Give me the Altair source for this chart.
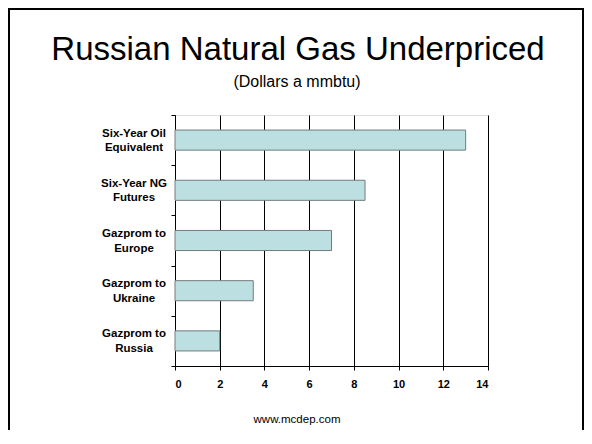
import altair as alt
import pandas as pd

categories = [
    "Six-Year Oil\nEquivalent",
    "Six-Year NG\nFutures",
    "Gazprom to\nEurope",
    "Gazprom to\nUkraine",
    "Gazprom to\nRussia",
]
values = [13.0, 8.5, 7.0, 3.5, 2.0]
x_ticks = [0, 2, 4, 6, 8, 10, 12, 14]
title_text = "Russian Natural Gas Underpriced"
subtitle_text = "(Dollars a mmbtu)"
footer_text = "www.mcdep.com"

df = pd.DataFrame({"category": categories, "value": values})
FONT = "Liberation Sans"

bars = alt.Chart(df).mark_bar(
    fill="#bce0e2", stroke="#737b7c", strokeWidth=1,
    height=alt.RelativeBandSize(band=0.4),
).encode(
    x=alt.X(
        "value:Q",
        scale=alt.Scale(domain=[0, 14], nice=False),
        axis=alt.Axis(
            values=x_ticks,
            grid=True,
            gridColor="#000000",
            gridOpacity=1,
            gridWidth=1,
            domainColor="#000000",
            tickColor="#000000",
            tickSize=4,
            labelFont=FONT,
            labelFontSize=11,
            labelFontWeight="bold",
            labelColor="#000000",
            labelPadding=8,
            title=footer_text,
            titleFont=FONT,
            titleFontSize=11.5,
            titleFontWeight="normal",
            titleColor="#000000",
            titleX=121.5,
            titleY=56,
            titleBaseline="alphabetic",
            titleAlign="center",
        ),
    ),
    y=alt.Y(
        "category:N",
        sort=None,
        scale=alt.Scale(paddingInner=0, paddingOuter=0),
        axis=alt.Axis(
            title=None,
            grid=False,
            tickBand="extent",
            domainColor="#000000",
            tickColor="#000000",
            tickSize=4,
            labelFont=FONT,
            labelFontSize=11.5,
            labelFontWeight="bold",
            labelColor="#000000",
            labelAlign="center",
            labelPadding=37.5,
            labelLineHeight=14.5,
            labelOffset=-7,
            labelExpr="split(datum.label, '\\n')",
        ),
    ),
)

title_mark = alt.Chart(alt.Data(values=[{"t": title_text}])).mark_text(
    font=FONT, fontSize=33, fontWeight="normal", color="#000000",
    align="center", baseline="alphabetic"
).encode(text="t:N", x=alt.value(123), y=alt.value(-55))

subtitle_mark = alt.Chart(alt.Data(values=[{"t": subtitle_text}])).mark_text(
    font=FONT, fontSize=16, fontWeight="normal", color="#000000",
    align="center", baseline="alphabetic"
).encode(text="t:N", x=alt.value(122), y=alt.value(-28))

frame = alt.Chart(alt.Data(values=[{}])).mark_rect(
    fillOpacity=0, stroke="#000000", strokeWidth=2
).encode(
    x=alt.value(-166), x2=alt.value(408), y=alt.value(-106), y2=alt.value(340)
)

chart = alt.layer(bars, title_mark, subtitle_mark, frame).properties(
    width=313,
    height=251,
    autosize=alt.AutoSizeParams(type="none"),
    padding={"left": 167, "top": 107, "right": 96, "bottom": 64},
).configure_view(stroke="#000000", strokeWidth=1).configure(background="white")

chart.save("out.html", embed_options={"renderer": "svg", "actions": False})
